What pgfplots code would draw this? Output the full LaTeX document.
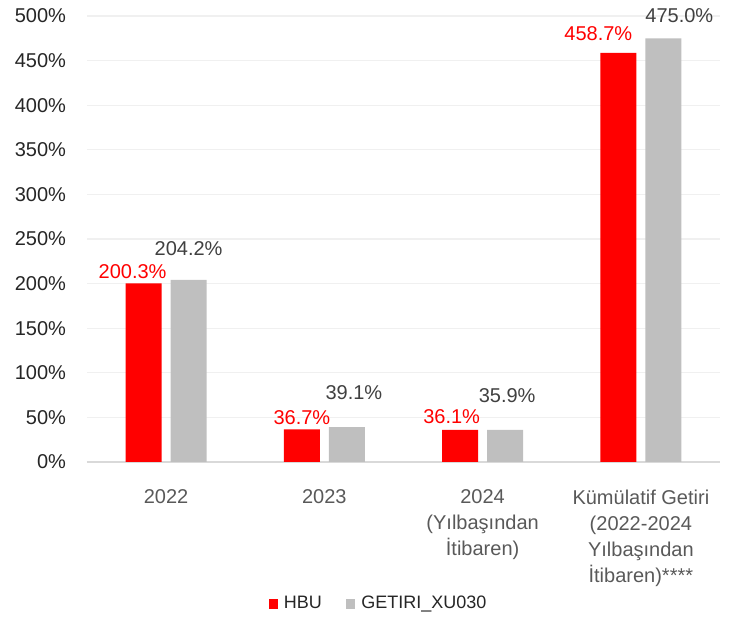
\documentclass[border=0pt]{standalone}
\usepackage{pgfplots}
\pgfplotsset{compat=1.18}
\usepackage{pgfplotstable}
\usepackage{fontspec}
\setmainfont{Liberation Sans}

\definecolor{hbured}{HTML}{FF0000}
\definecolor{xugray}{HTML}{BFBFBF}
\definecolor{labgray}{HTML}{404040}
\definecolor{tickgray}{HTML}{595959}
\definecolor{gridgray}{HTML}{F0F0F0}
\definecolor{axisgray}{HTML}{D9D9D9}

% x, value, label shift (pt)
\pgfplotstableread{
x y dx dy
0 200.3 -5.5 2
1 36.7 0 2
2 36.1 -4.25 3
3 458.7 -10 6
}\hbu
\pgfplotstableread{
x y dx dy
0 204.2 0 12
1 39.1 3.5 13.5
2 35.9 1 13.5
3 475.0 8 7.5
}\xu

\begin{document}
\fontsize{10}{13}\selectfont
\begin{tikzpicture}
\path[use as bounding box] (-43.5pt,-78.5pt) rectangle (321pt,231pt);
\begin{axis}[
    scale only axis,
    width=316.5pt, height=223pt,
    ybar=4.5pt, bar width=18pt,
    xmin=-0.5, xmax=3.5,
    ymin=0, ymax=500,
    xtick={0,1,2,3},
    xticklabels={2022, 2023, {2024\\(Yılbaşından\\İtibaren)}, {Kümülatif Getiri\\(2022-2024\\Yılbaşından\\İtibaren)****}},
    xticklabel style={align=center, text=tickgray, yshift=-6pt},
    ytick={0,50,...,500},
    yticklabel={\pgfmathparse{int(\tick)}\pgfmathresult\%},
    yticklabel style={text=black!85, xshift=-7pt},
    tick style={draw=none},
    ymajorgrids, grid style={gridgray, line width=0.6pt},
    axis x line*=bottom, axis y line*=left,
    x axis line style={axisgray, line width=0.8pt, -},
    y axis line style={draw=none},
    font=\fontsize{10}{13}\selectfont,
    nodes near coords={\pgfmathprintnumber[fixed,fixed zerofill,precision=1,assume math mode=true]{\pgfplotspointmeta}\%},
    visualization depends on={\thisrow{dx} \as \labdx},
    visualization depends on={\thisrow{dy} \as \labdy},
    every node near coord/.append style={inner sep=0pt, anchor=south, xshift=\labdx pt, yshift=\labdy pt},
    legend style={draw=none, at={(0.462,-0.318)}, anchor=center, legend columns=2,
        font=\fontsize{9}{11}\selectfont, text=black!85,
        /tikz/every even column/.append style={column sep=10pt},
        /tikz/every odd column/.append style={column sep=1pt}},
    legend image code/.code={\fill[#1] (0pt,-2.35pt) rectangle (4.7pt,2.35pt);},
]
\addplot[fill=hbured, draw=none, nodes near coords style={text=hbured}] table[x=x, y=y] {\hbu};
\addlegendentry{HBU}
\addplot[fill=xugray, draw=none, nodes near coords style={text=labgray}] table[x=x, y=y] {\xu};
\addlegendentry{GETIRI\_XU030}
\end{axis}
\end{tikzpicture}
\end{document}
